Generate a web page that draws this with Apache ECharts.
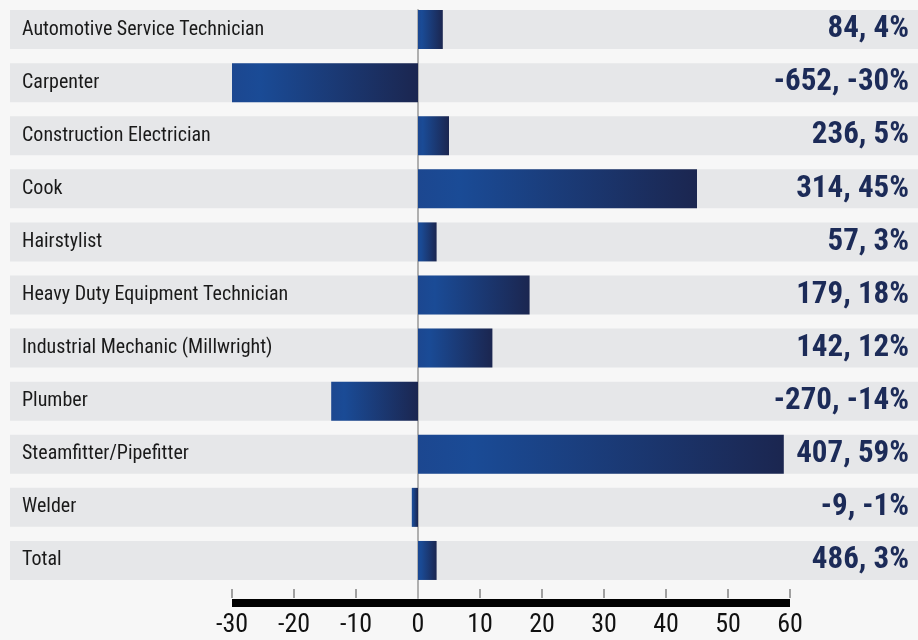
<!DOCTYPE html>
<html>
<head>
<meta charset="utf-8">
<script src="https://cdn.jsdelivr.net/npm/echarts@6/dist/echarts.min.js"></script>
<style>
html,body{margin:0;padding:0;background:#f7f7f7;}
#chart{width:918px;height:640px;}
</style>
</head>
<body>
<div id="chart"></div>
<script>
const categories = ['Automotive Service Technician','Carpenter','Construction Electrician','Cook','Hairstylist','Heavy Duty Equipment Technician','Industrial Mechanic (Millwright)','Plumber','Steamfitter/Pipefitter','Welder','Total'];
const changeCounts = [84, -652, 236, 314, 57, 179, 142, -270, 407, -9, 486];
const changePercents = [4, -30, 5, 45, 3, 18, 12, -14, 59, -1, 3];
const axisMin = -30, axisMax = 60, axisStep = 10;

const narrow = '"Roboto Condensed", "Open Sans Condensed", sans-serif';
const gridTop = 3, gridHeight = 584;
const chart = echarts.init(document.getElementById('chart'));
const barGradient = new echarts.graphic.LinearGradient(0, 0, 1, 0, [
  {offset: 0, color: '#1c4790'},
  {offset: 0.15, color: '#1a4b96'},
  {offset: 1, color: '#1b2650'}
]);
chart.setOption({
  backgroundColor: '#f7f7f7',
  animation: false,
  grid: [
    {left: 232, right: 128, top: gridTop, height: gridHeight},
    {left: 10, right: 0, top: gridTop, height: gridHeight},
    {left: 232, right: 128, top: 10, bottom: 42}
  ],
  xAxis: [
    {type: 'value', gridIndex: 0, min: axisMin, max: axisMax, interval: axisStep, offset: 11,
     axisLine: {show: false}, splitLine: {show: false}, axisLabel: {show: false},
     axisTick: {show: true, inside: true, length: 9, lineStyle: {color: '#a0a0a0', width: 2}}},
    {type: 'value', gridIndex: 0, min: axisMin, max: axisMax, interval: axisStep, offset: 16, position: 'bottom',
     axisLine: {show: true, lineStyle: {color: '#000', width: 8, cap: 'butt'}}, splitLine: {show: false},
     axisTick: {show: false},
     axisLabel: {show: true, margin: 9, color: '#111', fontSize: 26, fontFamily: narrow}},
    {type: 'value', gridIndex: 1, min: 0, max: 1, show: false},
    {type: 'value', gridIndex: 2, min: axisMin, max: axisMax, show: false}
  ],
  yAxis: [
    {type: 'category', gridIndex: 0, data: categories, inverse: true, show: false},
    {type: 'category', gridIndex: 1, data: categories, inverse: true,
     axisLine: {show: false}, axisTick: {show: false}, splitLine: {show: false},
     axisLabel: {inside: true, margin: 12, color: '#1a1a1a', fontSize: 20, fontFamily: narrow}, z: 3},
    {type: 'category', gridIndex: 2, data: ['z'], z: 1,
     axisLine: {show: true, onZero: true, lineStyle: {color: '#b0b0b0', width: 2}},
     axisTick: {show: false}, axisLabel: {show: false}, splitLine: {show: false}}
  ],
  series: [
    {type: 'bar', xAxisIndex: 2, yAxisIndex: 1, z: 0, barWidth: 39, silent: true,
     data: categories.map(() => 1),
     itemStyle: {color: '#e6e7e9'},
     label: {show: true, position: 'insideRight', distance: 9,
       formatter: p => changeCounts[p.dataIndex] + ', ' + changePercents[p.dataIndex] + '%',
       color: '#1c2b58', fontSize: 31, fontWeight: 'bold', fontFamily: narrow}},
    {type: 'bar', xAxisIndex: 0, yAxisIndex: 0, z: 2, barWidth: 39,
     data: changePercents,
     itemStyle: {color: barGradient}}
  ]
});
</script>
</body>
</html>
